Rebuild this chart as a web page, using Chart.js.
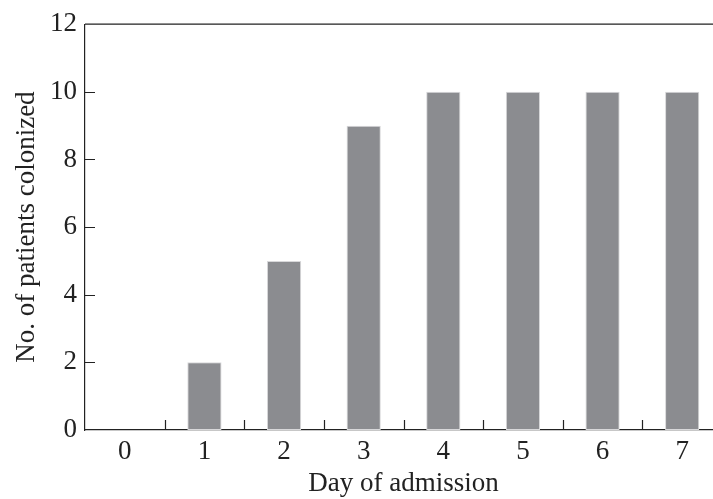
<!DOCTYPE html>
<html>
<head>
<meta charset="utf-8">
<script src="https://cdn.jsdelivr.net/npm/chart.js@4/dist/chart.umd.min.js"></script>
<style>
    html, body { margin: 0; padding: 0; background: #fff; overflow: hidden; }
    #wrap { width: 722px; height: 499px; }
</style>
</head>
<body>
<div id="wrap"><canvas id="chart"></canvas></div>
<script>
const days = ['0', '1', '2', '3', '4', '5', '6', '7'];
const colonized = [0, 2, 5, 9, 10, 10, 10, 10];
const yTicks = [0, 2, 4, 6, 8, 10, 12];

// Inward tick marks and top frame line, like the printed figure
const frameTicks = {
    id: 'frameTicks',
    afterDraw(chart) {
        const { ctx, chartArea, scales } = chart;
        ctx.save();
        ctx.strokeStyle = '#222';
        ctx.lineWidth = 1.2;
        ctx.beginPath();
        ctx.moveTo(chartArea.left, chartArea.top);
        ctx.lineTo(chartArea.right, chartArea.top);
        yTicks.slice(1, -1).forEach(v => {
            const y = Math.round(scales.y.getPixelForValue(v)) + 0.5;
            ctx.moveTo(chartArea.left, y);
            ctx.lineTo(chartArea.left + 10, y);
        });
        for (let i = 0; i < days.length - 1; i++) {
            const x = Math.round(scales.x.getPixelForValue(i + 0.5)) + 0.5;
            ctx.moveTo(x, chartArea.bottom);
            ctx.lineTo(x, chartArea.bottom - 10);
        }
        ctx.stroke();
        ctx.restore();
    }
};

const serif = { family: 'Liberation Serif', size: 27 };

new Chart(document.getElementById('chart'), {
    type: 'bar',
    data: {
        labels: days,
        datasets: [{
            data: colonized,
            backgroundColor: '#8b8c90',
            borderColor: '#d8d8da',
            borderWidth: 1,
            borderSkipped: false,
            categoryPercentage: 1,
            barPercentage: 0.43
        }]
    },
    options: {
        responsive: true,
        maintainAspectRatio: false,
        animation: false,
        layout: { padding: { top: 21, right: 0, left: 0, bottom: 0 } },
        plugins: { legend: { display: false }, tooltip: { enabled: false } },
        scales: {
            x: {
                grid: { display: false, drawTicks: false },
                border: { color: '#222', width: 1.2 },
                ticks: { color: '#222', padding: 6, font: serif },
                title: {
                    display: true,
                    text: 'Day of admission',
                    color: '#222',
                    padding: { top: 0, bottom: 0 },
                    font: { ...serif, lineHeight: 1.1 }
                },
                afterFit(scale) { scale.height = 69; }
            },
            y: {
                min: 0,
                max: 12,
                afterBuildTicks(scale) { scale.ticks = yTicks.map(v => ({ value: v })); },
                grid: { display: false, drawTicks: false },
                border: { color: '#222', width: 1.2 },
                ticks: { color: '#222', padding: 8, font: serif },
                title: {
                    display: true,
                    text: 'No. of patients colonized',
                    color: '#222',
                    padding: { top: 11, bottom: 0 },
                    font: serif
                },
                afterFit(scale) { scale.width = 85; }
            }
        }
    },
    plugins: [frameTicks]
});
</script>
</body>
</html>
